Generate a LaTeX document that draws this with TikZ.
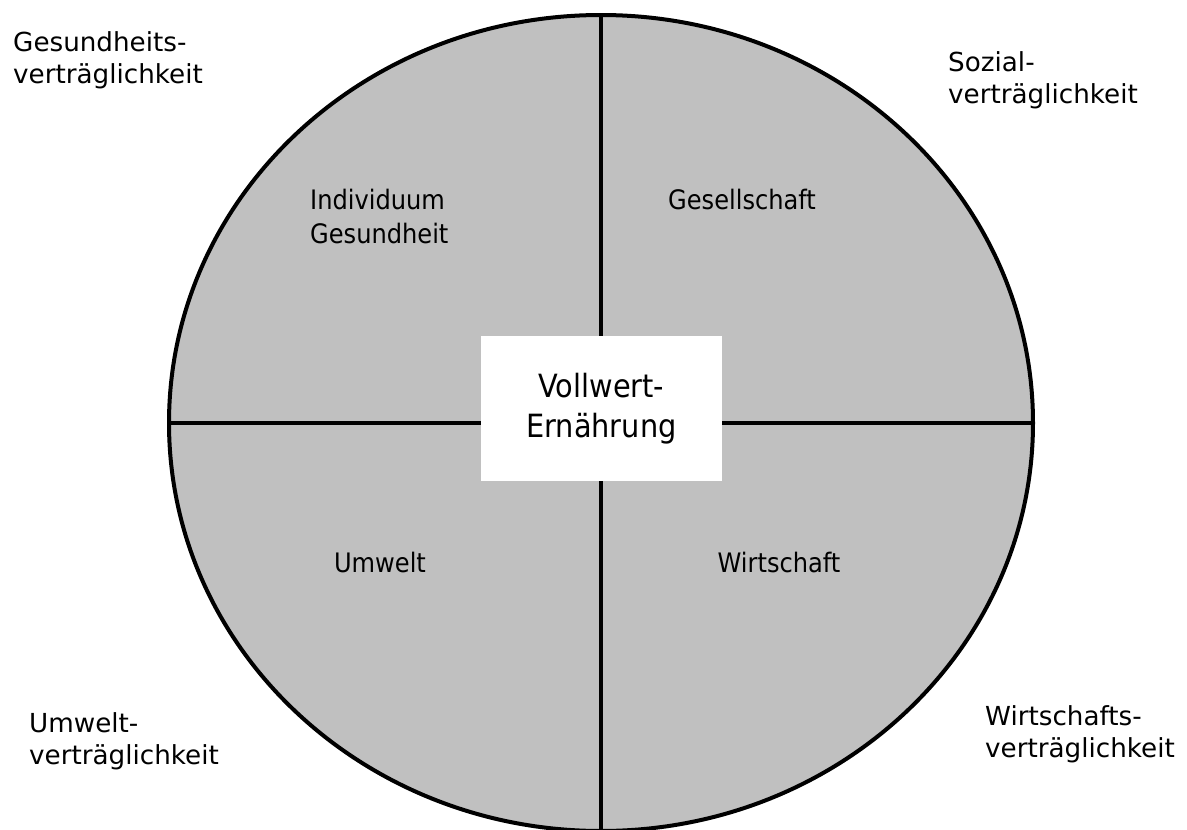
\documentclass[tikz,border=0pt]{standalone}
\usepackage{fontspec}
\setmainfont{DejaVu Sans}
\newfontfamily\condfont{DejaVu Sans Condensed}
\usetikzlibrary{positioning}
\definecolor{sectorgray}{RGB}{192,192,192}

\begin{document}
\begin{tikzpicture}[
  x=1pt, y=-1pt,
  rim/.style={draw=black, line width=4pt, fill=sectorgray},
  divider/.style={draw=black, line width=4pt},
  outer/.style={align=left, inner sep=0pt, anchor=base west, font=\fontsize{26.2}{32}\selectfont},
  sector/.style={align=left, inner sep=0pt, anchor=base, font=\condfont\fontsize{26.8}{34}\selectfont},
  core/.style={fill=white, minimum width=241pt, minimum height=145pt, align=center, font=\condfont\fontsize{32}{40}\selectfont}
]
\useasboundingbox (0,0) rectangle (1187,830);

% circle and its four quarters
\coordinate (c) at (601,423);
\draw[rim] (c) ellipse [x radius=432, y radius=408];
\coordinate (top) at (601,15);
\coordinate (bottom) at (601,831);
\coordinate (left) at (169,423);
\coordinate (right) at (1033,423);
\draw[divider] (top) -- (bottom);
\draw[divider] (left) -- (right);

\node[core] (vwe) at (601.5,408.5) {Vollwert-\\Ernährung};

% quarters
\node[sector, anchor=base west] (indiv) at (310,243) {Individuum\\Gesundheit};
\node[sector] (gesell) at (742,209) {Gesellschaft};
\node[sector] (umwelt) at (380,572) {Umwelt};
\node[sector] (wirt) at (779,572) {Wirtschaft};

% outer labels
\node[outer] (gesv) at (13,83) {Gesundheits-\\verträglichkeit};
\node[outer] (sozv) at (948,103) {Sozial-\\verträglichkeit};
\node[outer] (umwv) at (29,764) {Umwelt-\\verträglichkeit};
\node[outer] (wirv) at (985,757) {Wirtschafts-\\verträglichkeit};

\end{tikzpicture}
\end{document}
